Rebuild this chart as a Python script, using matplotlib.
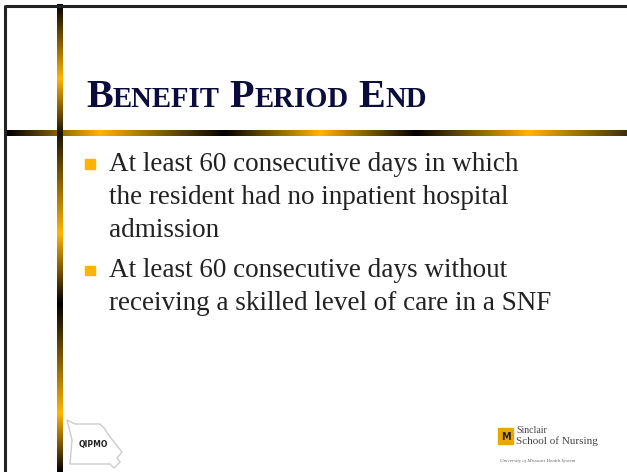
import numpy as np
import matplotlib
matplotlib.use("Agg")
import matplotlib.pyplot as plt
from matplotlib.colors import LinearSegmentedColormap

title_words = ["Benefit", "Period", "End"]
bullets = [
    ["At least 60 consecutive days in which",
     "the resident had no inpatient hospital",
     "admission"],
    ["At least 60 consecutive days without",
     "receiving a skilled level of care in a SNF"],
]

W, H = 627, 472
fig = plt.figure(figsize=(W / 100, H / 100), dpi=100)
ax = fig.add_axes([0, 0, 1, 1])
ax.set_xlim(0, W)
ax.set_ylim(H, 0)
ax.axis("off")

gold = (1.0, 0.71, 0.0)
cmap = LinearSegmentedColormap.from_list("bg", [(0, 0, 0), gold])

# horizontal gradient bar
hx = np.arange(0, W)
hv = np.interp(hx, [4, 96, 222, 318, 414, 528, 627], [0, 1, 0, 1, 0, 1, 0.25])
ax.imshow(hv[None, :], cmap=cmap, vmin=0, vmax=1, aspect="auto",
          extent=[4, W, 136, 130], zorder=2)

# vertical gradient bar
vy = np.arange(4, H)
vv = np.interp(vy, [4, 78, 133, 233, 303, 413, 472], [0, 1, 0.1, 1, 0, 1, 0])
ax.imshow(vv[:, None], cmap=cmap, vmin=0, vmax=1, aspect="auto",
          extent=[57, 63, H, 4], zorder=2)

# outer frame
ax.plot([5, 5], [5, H], color="#222222", lw=2.2, zorder=3, solid_capstyle="butt")
ax.plot([5, W], [5.5, 5.5], color="#222222", lw=2.2, zorder=3, solid_capstyle="butt")

fig.canvas.draw()
r = fig.canvas.get_renderer()

# title in small caps
navy = "#0c0c3c"
x = 86
for w in title_words:
    t = ax.text(x, 107, w[0], fontsize=29, fontweight="bold", family="Liberation Serif",
                color=navy, va="baseline", ha="left")
    x += t.get_window_extent(r).width
    t = ax.text(x, 107, w[1:].upper(), fontsize=20.7, fontweight="bold",
                family="Liberation Serif", color=navy, va="baseline", ha="left")
    x += t.get_window_extent(r).width + 10

# bullets
y = 170.7
for item in bullets:
    ax.add_patch(plt.Rectangle((85, y - 11.5), 9.5, 9.5, color="#ffb400", zorder=3))
    for line in item:
        ax.text(109, y, line, fontsize=19.5, family="Liberation Serif", color="#222222",
                va="baseline", ha="left")
        y += 33
    y += 7.5

# QIPMO logo (rough Missouri outline)
mo_x = [67, 75, 100, 104, 108, 114, 118, 122, 117, 120, 114, 110, 70, 72]
mo_y = [420, 424, 424, 428, 434, 442, 447, 452, 458, 462, 468, 464, 464, 440]
ax.fill(mo_x, mo_y, facecolor="white", edgecolor="#cccccc", lw=1, zorder=3)
ax.text(93, 444, "QIPMO", fontsize=5.5, fontweight="bold", family="DejaVu Sans",
        color="#222222", ha="center", va="center", zorder=4)

# Sinclair logo
ax.add_patch(plt.Rectangle((498, 428), 15, 16, color="#e8a800", zorder=3))
ax.text(505.5, 437, "M", fontsize=7, fontweight="bold", color="#222222",
        ha="center", va="center", zorder=4)
ax.text(516, 433, "Sinclair", fontsize=7, family="Liberation Serif", color="#444444",
        va="baseline")
ax.text(516, 444, "School of Nursing", fontsize=8, family="Liberation Serif", color="#444444",
        va="baseline")
ax.text(500, 462, "University of Missouri Health System", fontsize=3.6,
        family="Liberation Serif", style="italic", color="#666666", va="baseline")

fig.savefig("out.png", dpi=100)
